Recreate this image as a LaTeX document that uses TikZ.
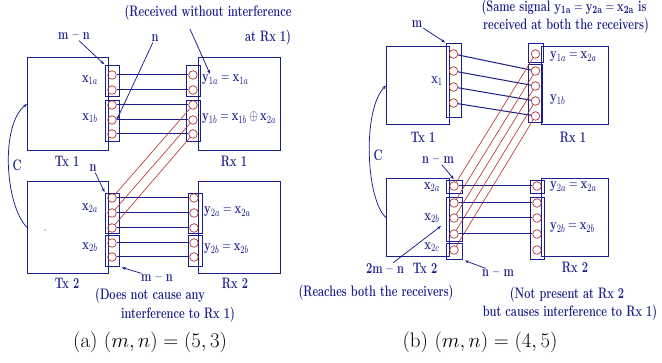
\documentclass[tikz,border=0pt]{standalone}
\usepackage{xcolor}
\usepackage{tikz}
\usetikzlibrary{arrows.meta,positioning}
\definecolor{Navy}{HTML}{1C1C8C}
\definecolor{Brick}{HTML}{B03A3A}
\newcommand{\tl}[1]{\scalebox{1}[1.38]{#1}}

\begin{document}
\begin{tikzpicture}[x=1pt,y=-1pt,
  lbl/.style={text=Navy,font=\fontsize{11}{13}\selectfont\bfseries,inner sep=1pt},
  captext/.style={text=black,font=\fontsize{21}{25}\selectfont},
  unitbox/.style={draw=Navy,line width=1pt,anchor=north west,inner sep=0pt},
  grp/.style={draw=Navy,line width=0.9pt,anchor=north west,inner sep=0pt},
  ant/.style={circle,draw=Brick,line width=0.75pt,minimum size=8.6pt,inner sep=0pt},
  wire/.style={draw=Navy,line width=1pt},
  xwire/.style={draw=Brick,line width=0.65pt},
  arr/.style={-{Stealth[length=4pt,width=3pt]},draw=Navy,line width=0.75pt}]
  \useasboundingbox (0,0) rectangle (662,363);

  % (a) m=5, n=3
  \node[unitbox,minimum width=81pt,minimum height=93pt] (atx1) at (27,57) {};
  \node[unitbox,minimum width=82pt,minimum height=93pt] (arx1) at (198,57) {};
  \node[unitbox,minimum width=81pt,minimum height=92pt] (atx2) at (27,181) {};
  \node[unitbox,minimum width=82pt,minimum height=92pt] (arx2) at (198,181) {};
  \node[grp,minimum width=14pt,minimum height=31pt] (atg1) at (105,65) {};
  \node[grp,minimum width=14pt,minimum height=41pt] (atg2) at (105,100) {};
  \node[grp,minimum width=14pt,minimum height=31pt] (arg1) at (186,65) {};
  \node[grp,minimum width=14pt,minimum height=41pt] (arg2) at (186,100) {};
  \node[grp,minimum width=14pt,minimum height=40pt] (atg3) at (105,193) {};
  \node[grp,minimum width=14pt,minimum height=31pt] (atg4) at (105,235) {};
  \node[grp,minimum width=14pt,minimum height=40pt] (arg3) at (188,193) {};
  \node[grp,minimum width=14pt,minimum height=31pt] (arg4) at (188,235) {};
  \foreach \i/\y in {1/75,2/90,3/105,4/120,5/134} {
    \node[ant] (at1-\i) at (112,\y) {};
    \node[ant] (ar1-\i) at (193,\y) {};
  }
  \foreach \i/\y in {1/198,2/213,3/228,4/243,5/257} {
    \node[ant] (at2-\i) at (112,\y) {};
    \node[ant] (ar2-\i) at (194,\y) {};
  }
  \foreach \i in {1,...,5} {
    \draw[wire] (at1-\i) -- (ar1-\i);
    \draw[wire] (at2-\i) -- (ar2-\i);
  }
  \foreach \i/\j in {1/3,2/4,3/5} \draw[xwire] (at2-\i) -- (ar1-\j);

  \node[lbl] (ax1a) at (90,80) {\tl{$\mathbf{x}_{1a}$}};
  \node[lbl] (ax1b) at (90,118) {\tl{$\mathbf{x}_{1b}$}};
  \node[lbl,anchor=west] (ay1a) at (201,80) {\tl{$\mathbf{y}_{1a}=\mathbf{x}_{1a}$}};
  \node[lbl,anchor=west] (ay1b) at (201,118) {\tl{$\mathbf{y}_{1b}=\mathbf{x}_{1b}\oplus\mathbf{x}_{2a}$}};
  \node[lbl] (ax2a) at (90,208) {\tl{$\mathbf{x}_{2a}$}};
  \node[lbl] (ax2b) at (90,247) {\tl{$\mathbf{x}_{2b}$}};
  \node[lbl,anchor=west] (ay2a) at (203,212) {\tl{$\mathbf{y}_{2a}=\mathbf{x}_{2a}$}};
  \node[lbl,anchor=west] (ay2b) at (203,249) {\tl{$\mathbf{y}_{2b}=\mathbf{x}_{2b}$}};
  \node[lbl] (atx1l) at (67,161) {\tl{Tx 1}};
  \node[lbl] (arx1l) at (234,161) {\tl{Rx 1}};
  \node[lbl] (atx2l) at (67,283) {\tl{Tx 2}};
  \node[lbl] (arx2l) at (235,283) {\tl{Rx 2}};
  \fill[Navy] (45,230) circle (0.7pt);

  \node[lbl] (amn1) at (74,36) {\tl{m -- n}};
  \draw[arr,shorten >=1pt] (amn1) -- (atg1.north west);
  \node[lbl] (an1) at (155,38) {\tl{n}};
  \draw[arr] (an1) -- (at1-4.east);
  \node[lbl] (arcv1) at (208,13) {\tl{(Received without interference}};
  \node[lbl] (arcv2) at (268,38) {\tl{at Rx 1)}};
  \coordinate (arcvt) at (190,29);
  \draw[arr] (arcvt) -- ([xshift=9pt]ay1a.north west);
  \node[lbl] (an2) at (93,168) {\tl{n}};
  \draw[arr,shorten >=1pt] (an2) -- (atg3.north west);
  \node[lbl] (amn2) at (157,278) {\tl{m -- n}};
  \draw[arr,shorten >=2pt] (amn2) -- (atg4.south east);
  \node[lbl] (anot1) at (150,296) {\tl{(Does not cause any}};
  \node[lbl] (anot2) at (178,315) {\tl{interference to Rx 1)}};
  \draw[arr] (atx2.west) .. controls (5,205) and (0,125) .. (atx1.west);
  \node[lbl] (aC) at (17,165) {\tl{C}};

  % (b) m=4, n=5
  \node[unitbox,minimum width=63pt,minimum height=78pt] (btx1) at (386,46) {};
  \node[unitbox,minimum width=67pt,minimum height=78pt] (brx1) at (541,46) {};
  \node[unitbox,minimum width=63pt,minimum height=78pt] (btx2) at (386,178) {};
  \node[unitbox,minimum width=67pt,minimum height=78pt] (brx2) at (541,178) {};
  \node[grp,minimum width=15pt,minimum height=74pt] (btg1) at (446,43) {};
  \node[grp,minimum width=15pt,minimum height=19pt] (brg1) at (528,43) {};
  \node[grp,minimum width=14pt,minimum height=58pt] (brg2) at (528,64) {};
  \node[grp,minimum width=16pt,minimum height=13pt] (btg2) at (446,180) {};
  \node[grp,minimum width=16pt,minimum height=44pt] (btg3) at (446,197) {};
  \node[grp,minimum width=16pt,minimum height=16pt] (btg4) at (446,243) {};
  \node[grp,minimum width=14pt,minimum height=13pt] (brg3) at (530,180) {};
  \node[grp,minimum width=14pt,minimum height=62pt] (brg4) at (530,197) {};
  \foreach \i/\y in {1/54,2/71,3/87,4/103} \node[ant] (bt1-\i) at (453.5,\y) {};
  \foreach \i/\y in {1/54,2/71,3/86,4/101,5/116} \node[ant] (br1-\i) at (535.5,\y) {};
  \foreach \i/\y in {1/186,2/203,3/218,4/234,5/250} {
    \node[ant] (bt2-\i) at (454,\y) {};
    \node[ant] (br2-\i) at (537,\y) {};
  }
  \foreach \i/\j in {1/2,2/3,3/4,4/5} \draw[wire] (bt1-\i) -- (br1-\j);
  \foreach \i in {1,...,4} \draw[wire] (bt2-\i) -- (br2-\i);
  \foreach \i in {1,...,5} \draw[xwire] (bt2-\i) -- (br1-\i);

  \node[lbl] (bx1) at (437,81) {\tl{$\mathbf{x}_{1}$}};
  \node[lbl,anchor=west] (by1a) at (549,57) {\tl{$\mathbf{y}_{1a}=\mathbf{x}_{2a}$}};
  \node[lbl,anchor=west] (by1b) at (549,100) {\tl{$\mathbf{y}_{1b}$}};
  \node[lbl] (bx2a) at (432,187) {\tl{$\mathbf{x}_{2a}$}};
  \node[lbl] (bx2b) at (432,218) {\tl{$\mathbf{x}_{2b}$}};
  \node[lbl] (bx2c) at (432,247) {\tl{$\mathbf{x}_{2c}$}};
  \node[lbl,anchor=west] (by2a) at (549,187) {\tl{$\mathbf{y}_{2a}=\mathbf{x}_{2a}$}};
  \node[lbl,anchor=west] (by2b) at (549,228) {\tl{$\mathbf{y}_{2b}=\mathbf{x}_{2b}$}};
  \node[lbl] (btx1l) at (423,137) {\tl{Tx 1}};
  \node[lbl] (brx1l) at (573,137) {\tl{Rx 1}};
  \node[lbl] (btx2l) at (425,268) {\tl{Tx 2}};
  \node[lbl] (brx2l) at (575,267) {\tl{Rx 2}};

  \node[lbl] (bm) at (417,24) {\tl{m}};
  \draw[arr,shorten >=1pt] (bm) -- (btg1.north west);
  \node[lbl] (bsame1) at (564,7.5) {\tl{(Same signal $\mathbf{y}_{\mathbf{1a}}=\mathbf{y}_{\mathbf{2a}}=\mathbf{x}_{\mathbf{2a}}$ is}};
  \node[lbl] (bsame2) at (566,26) {\tl{received at both the receivers)}};
  \node[lbl] (bnm1) at (438,160) {\tl{n -- m}};
  \draw[arr,shorten >=1pt] (bnm1) -- (btg2.north);
  \node[lbl] (b2mn) at (385,269) {\tl{2m -- n}};
  \coordinate (b2mnh) at (441,226);
  \draw[arr] (b2mn) -- (b2mnh);
  \node[lbl] (bnm2) at (498,273) {\tl{n -- m}};
  \draw[arr,shorten >=2pt] (bnm2) -- (btg4.south east);
  \node[lbl] (breach) at (376,293) {\tl{(Reaches both the receivers)}};
  \node[lbl] (bnot1) at (567,295) {\tl{(Not present at Rx 2}};
  \node[lbl] (bnot2) at (570,313) {\tl{but causes interference to Rx 1)}};
  \draw[arr] (btx2.west) .. controls (366,200) and (362,110) .. (btx1.west);
  \node[lbl] (bC) at (378,155) {\tl{C}};

  % captions
  \node[captext] (capa) at (150,342) {(a) $(m,n)=(5,3)$};
  \node[captext] (capb) at (480,342) {(b) $(m,n)=(4,5)$};
\end{tikzpicture}
\end{document}
